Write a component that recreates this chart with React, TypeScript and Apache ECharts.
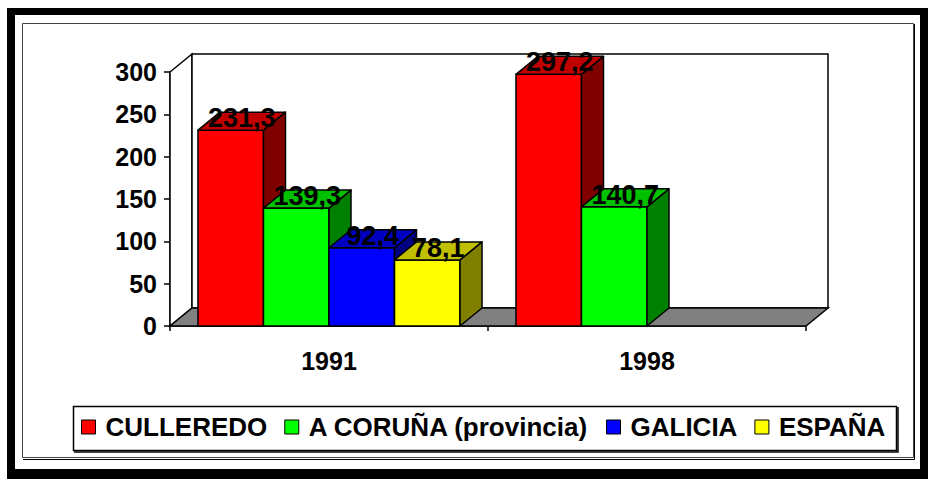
import React, { useEffect, useRef } from "react";
import * as echarts from "echarts";

const categories = ["1991", "1998"];
const seriesNames = ["CULLEREDO", "A CORUÑA (provincia)", "GALICIA", "ESPAÑA"];
const culleredo = [231.3, 297.2];
const coruna = [139.3, 140.7];
const galicia = [92.4, null];
const espana = [78.1, null];
const seriesValues = [culleredo, coruna, galicia, espana];
const frontColors = ["#FF0000", "#00FF00", "#0000FF", "#FFFF00"];
const topColors = ["#C00000", "#00C000", "#0000C0", "#C0C000"];
const sideColors = ["#800000", "#008000", "#000080", "#808000"];
const yMin = 0;
const yMax = 300;
const yInterval = 50;

const FONT = "'Liberation Sans', Arial, Helvetica, sans-serif";
const DX = 22;
const DY = 18;
const BAR_FRAC = 0.206;
const N = seriesNames.length;

export default function App() {
  const ref = useRef<HTMLDivElement>(null);
  useEffect(() => {
    if (!ref.current) return;
    const chart = echarts.init(ref.current, null, { renderer: "svg" });

    const wallSeries: any = {
      type: "custom",
      name: "__walls",
      silent: true,
      data: [[0, 0]],
      renderItem: (params: any) => {
        const { x, y, width: w, height: h } = params.coordSys;
        const st = { stroke: "#000", lineWidth: 1.5 };
        return {
          type: "group",
          children: [
            {
              type: "polygon",
              shape: { points: [[x, y], [x + DX, y - DY], [x + DX, y + h - DY], [x, y + h]] },
              style: { fill: "#fff", ...st },
            },
            {
              type: "rect",
              shape: { x: x + DX, y: y - DY, width: w, height: h },
              style: { fill: "#fff", ...st },
            },
            {
              type: "polygon",
              shape: { points: [[x, y + h], [x + w, y + h], [x + w + DX, y + h - DY], [x + DX, y + h - DY]] },
              style: { fill: "#808080", ...st },
            },
          ],
        };
      },
    };

    const barSeries = seriesNames.map((name, i) => ({
      type: "custom",
      name,
      itemStyle: { color: frontColors[i] },
      data: seriesValues[i].map((v, c) => [c, v === null ? "-" : v]),
      renderItem: (params: any, api: any) => {
        const cat = api.value(0);
        const v = api.value(1);
        if (v === null || isNaN(v)) return null;
        const base = api.coord([cat, 0]);
        const top = api.coord([cat, v]);
        const cw = api.size([1, 0])[0];
        const bw = cw * BAR_FRAC;
        const x0 = base[0] - (N / 2) * bw + i * bw;
        const x1 = x0 + bw;
        const yB = base[1];
        const yT = top[1];
        const st = { stroke: "#000", lineWidth: 1.5, lineJoin: "round" };
        return {
          type: "group",
          children: [
            {
              type: "rect",
              shape: { x: x0, y: yT, width: bw, height: yB - yT },
              style: { fill: frontColors[i], ...st },
            },
            {
              type: "polygon",
              shape: { points: [[x1, yT], [x1 + DX, yT - DY], [x1 + DX, yB - DY], [x1, yB]] },
              style: { fill: sideColors[i], ...st },
            },
            {
              type: "polygon",
              shape: { points: [[x0, yT], [x1, yT], [x1 + DX, yT - DY], [x0 + DX, yT - DY]] },
              style: { fill: topColors[i], ...st },
            },
            {
              type: "text",
              z2: 100,
              style: {
                x: (x0 + x1) / 2 + DX / 2,
                y: yT - 12,
                text: Number(v).toFixed(1).replace(".", ","),
                align: "center",
                verticalAlign: "middle",
                fill: "#000",
                font: `bold 27px ${FONT}`,
              },
            },
          ],
        };
      },
    }));

    chart.setOption({
      animation: false,
      backgroundColor: "#fff",
      graphic: [
        { type: "rect", z: -10, silent: true, shape: { x: 7, y: 8, width: 921, height: 471 }, style: { fill: "#000" } },
        { type: "rect", z: -9, silent: true, shape: { x: 15, y: 15, width: 905, height: 454 }, style: { fill: "#fff" } },
        { type: "rect", z: -8, silent: true, shape: { x: 22.5, y: 23.5, width: 891, height: 434 }, style: { fill: "none", stroke: "#404040", lineWidth: 1 } },
        { type: "polyline", z: -8, silent: true, shape: { points: [[914.5, 24], [914.5, 459.5], [23, 459.5]] }, style: { fill: "none", stroke: "#000", lineWidth: 1 } },
        { type: "rect", z: -8, silent: true, shape: { x: 73.5, y: 406.5, width: 823, height: 44 }, style: { fill: "#fff", stroke: "#000", lineWidth: 1.5 } },
        { type: "polyline", z: -8, silent: true, shape: { points: [[898, 407], [898, 452], [74, 452]] }, style: { fill: "none", stroke: "#000", lineWidth: 1.5 } },
      ],
      legend: {
        left: 81,
        top: 414,
        padding: 0,
        itemWidth: 14,
        itemHeight: 14,
        itemGap: 17,
        icon: "rect",
        selectedMode: false,
        textStyle: { fontFamily: FONT, fontWeight: "bold", fontSize: 26, color: "#000", lineHeight: 26, padding: [0, 0, 0, 5] },
        data: seriesNames.map((n, i) => ({
          name: n,
          itemStyle: { color: frontColors[i], borderColor: "#000", borderWidth: 1 },
        })),
      },
      grid: { left: 170, top: 72, width: 636, height: 254, containLabel: false },
      xAxis: {
        type: "category",
        data: categories,
        boundaryGap: true,
        axisLine: { show: true, lineStyle: { color: "#000", width: 1.5 } },
        axisTick: { show: true, length: 5, lineStyle: { color: "#000", width: 1.5 } },
        axisLabel: { color: "#000", fontFamily: FONT, fontWeight: "bold", fontSize: 25, margin: 22 },
        splitLine: { show: false },
      },
      yAxis: {
        type: "value",
        min: yMin,
        max: yMax,
        interval: yInterval,
        axisLine: { show: true, lineStyle: { color: "#000", width: 1.5 } },
        axisTick: { show: true, length: 6, lineStyle: { color: "#000", width: 1.5 } },
        axisLabel: { color: "#000", fontFamily: FONT, fontWeight: "bold", fontSize: 25, margin: 13 },
        splitLine: { show: false },
      },
      series: [wallSeries, ...barSeries],
    });
    return () => chart.dispose();
  }, []);
  return (
    <div
      ref={ref}
      style={{ position: "absolute", left: 0, top: 0, width: 928, height: 479 }}
    />
  );
}
